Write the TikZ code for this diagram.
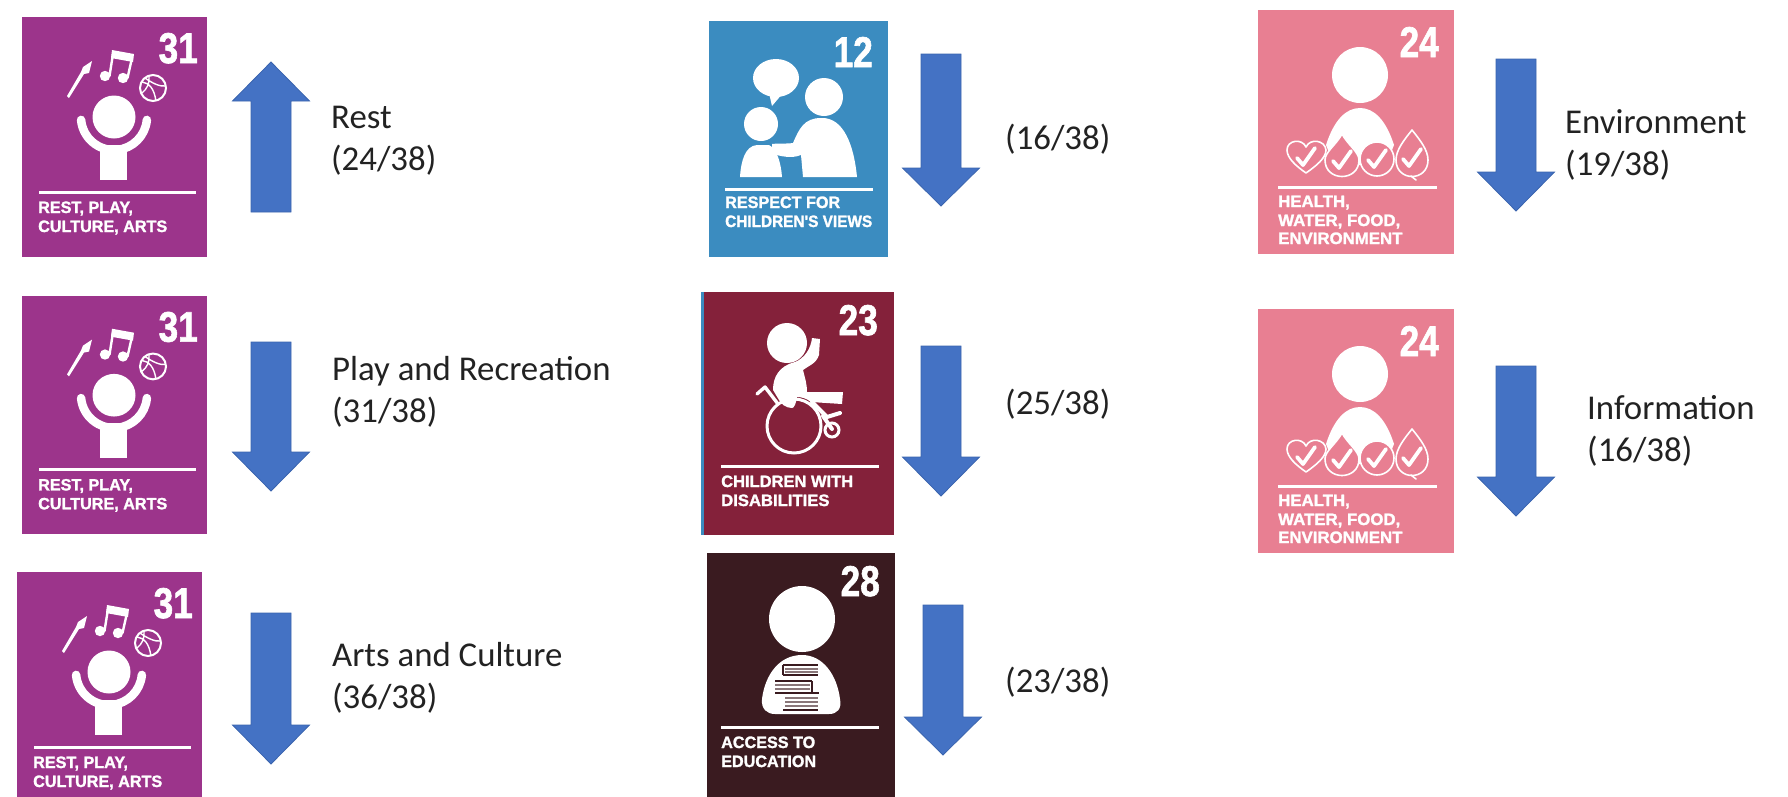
\documentclass[tikz,border=0pt]{standalone}
\usepackage{fontspec}
\setmainfont{Carlito}
\newfontfamily\cardfont{Liberation Sans}[BoldFeatures={FakeBold=1.6}]
\definecolor{cpurple}{HTML}{9C348B}
\definecolor{cblue}{HTML}{3B8CC0}
\definecolor{cmaroon}{HTML}{84213A}
\definecolor{cdark}{HTML}{3A1B20}
\definecolor{cpink}{HTML}{E87F92}
\definecolor{arrowblue}{HTML}{4472C4}
\definecolor{arrowedge}{HTML}{3A64AE}
\definecolor{textdark}{HTML}{222222}
\tikzset{
  x=1pt,y=1pt,
  cardnum/.style={text=white,font=\cardfont\bfseries\fontsize{43}{43}\selectfont,inner sep=0,anchor=base east,xscale=.82,transform shape},
  cardtext/.style={text=white,font=\cardfont\bfseries\fontsize{16.5}{16.5}\selectfont,inner sep=0,anchor=base west,xscale=.98,transform shape},
  cardrule/.style={draw=white,line width=3},
  wfill/.style={fill=white,draw=none},
  wline/.style={draw=white,line cap=round,line join=round},
  bigarrow/.style={fill=arrowblue,draw=arrowedge,line width=.8,line join=miter},
  rating/.style={text=textdark,font=\fontsize{34.8}{42}\selectfont,inner sep=0,anchor=base west,align=left},
}
\newcommand{\arrowshape}[4]{% centre x, tail end, head base, tip
  \path[bigarrow] (#1-20,-#2) -- (#1+20,-#2) -- (#1+20,-#3) -- (#1+38.5,-#3) -- (#1,-#4) -- (#1-38.5,-#3) -- (#1-20,-#3) -- cycle;}
\newcommand{\iconrest}[1]{%
  \fill[cpurple] (0,0) rectangle (185,-240);
  \node[cardnum] (#1num) at (176,-46) {31};
  \draw[cardrule] (17,-175) -- (174,-175);
  \node[cardtext] (#1a) at (16,-196) {REST, PLAY,};
  \node[cardtext] (#1b) at (16,-215) {CULTURE, ARTS};
  \fill[white] (92,-100) circle[radius=21.5];
  \fill[white] (78,-128) rectangle (105,-163);
  \draw[wline,line width=8.5] (59.1,-102.9) arc[start angle=185,end angle=355,radius=33];
  \fill[white] (45,-79) -- (47,-81) -- (62,-57) -- (67,-56) -- (70,-44) -- (61,-50) -- (59,-55) -- cycle;
  \fill[white] (83,-59) circle[radius=5.2] (101,-61) circle[radius=5.2];
  \draw[wline,line width=2.4] (87.5,-59) -- (91,-37) (105.5,-61) -- (110,-41);
  \fill[white] (90,-33) -- (112,-37) -- (111,-45) -- (89,-41) -- cycle;
  \draw[white,line width=2] (131,-71) circle[radius=13];
  \draw[white,line width=1.4] (120,-65) .. controls (127,-66) and (132,-71) .. (134,-84)
     (123,-61) .. controls (130,-66) and (138,-70) .. (144,-69)
     (120,-76) .. controls (125,-72) and (128,-66) .. (127,-59);
}
\newcommand{\iconviews}[1]{%
  \fill[cblue] (0,0) rectangle (179,-236);
  \node[cardnum] (#1num) at (164,-46) {12};
  \draw[cardrule] (16,-168) -- (164,-168);
  \node[cardtext,xscale=1] (#1a) at (16,-187) {RESPECT FOR};
  \node[cardtext,xscale=.95] (#1b) at (16,-206) {CHILDREN'S VIEWS};
  \fill[white] (67,-57) ellipse[x radius=23,y radius=19];
  \fill[white] (60,-72) -- (63,-85) -- (74,-72) -- cycle;
  \fill[white] (52,-103) circle[radius=17] (115,-76) circle[radius=19];
  \fill[white] (94,-156) -- (92,-134) .. controls (82,-138) and (72,-135) .. (63,-133) -- (63,-123)
     .. controls (72,-122) and (80,-123) .. (84,-122)
     .. controls (90,-108) and (95,-97) .. (112,-97)
     .. controls (135,-96) and (145,-125) .. (148,-156) -- cycle;
  \fill[white] (31,-156) .. controls (32,-140) and (36,-125) .. (48,-124) -- (60,-124)
     .. controls (68,-128) and (72,-142) .. (73,-156) -- cycle;
}
\newcommand{\icondisab}[1]{%
  \fill[cblue] (0,0) rectangle (3,-243);
  \fill[cmaroon] (3,0) rectangle (193,-243);
  \node[cardnum] (#1num) at (177,-43) {23};
  \draw[cardrule] (20,-174) -- (178,-174);
  \node[cardtext,xscale=1.02] (#1a) at (20,-195) {CHILDREN WITH};
  \node[cardtext,xscale=1.03] (#1b) at (20,-214) {DISABILITIES};
  \fill[white] (86,-51) circle[radius=20];
  \draw[white,line width=3] (93,-134) circle[radius=27];
  \draw[white,line width=3] (131,-138) circle[radius=7];
  \fill[white] (72,-98) .. controls (72,-85) and (78,-74) .. (94,-70)
     .. controls (104,-66) and (110,-56) .. (111,-46) -- (119,-47) -- (118,-63)
     .. controls (115,-72) and (107,-74) .. (102,-78) .. controls (104,-86) and (106,-92) .. (106,-100)
     -- (142,-100) -- (141,-112) -- (110,-110) .. controls (105,-106) and (100,-105) .. (96,-105)
     .. controls (95,-112) and (93,-116) .. (91,-116) .. controls (85,-116) and (80,-112) .. (78,-108) -- cycle;
  \draw[wline,line width=3.4] (56,-102) -- (64,-95) -- (77,-112);
  \draw[wline,line width=4] (111,-110) -- (126,-125) -- (139,-121) (122,-124) -- (131,-137);
}
\newcommand{\iconeduc}[1]{%
  \fill[cdark] (0,0) rectangle (188,-256);
  \node[cardnum] (#1num) at (173,-43) {28};
  \draw[cardrule] (14,-174) -- (172,-174);
  \node[cardtext,xscale=1] (#1a) at (14,-195) {ACCESS TO};
  \node[cardtext,xscale=1] (#1b) at (14,-214) {EDUCATION};
  \fill[white] (95,-66) circle[radius=33];
  \fill[white] (95,-102) .. controls (72,-102) and (58,-122) .. (55,-146)
     .. controls (54,-156) and (60,-161) .. (68,-161) -- (122,-161)
     .. controls (130,-161) and (135,-156) .. (133,-146)
     .. controls (130,-122) and (116,-102) .. (95,-102) -- cycle;
  \draw[cdark,line width=1.1] (76,-112) -- (111,-112) (76,-122) -- (111,-122) (76,-112) -- (76,-122);
  \draw[cdark!60,line width=1.4] (78,-116) -- (111,-116) (78,-119) -- (111,-119);
  \draw[cdark,line width=2] (68,-128) -- (105,-128) (68,-140) -- (112,-140) (105,-128) -- (105,-140);
  \draw[cdark!60,line width=1.4] (68,-132) -- (103,-132) (68,-136) -- (103,-136);
  \draw[cdark!60,line width=1.4] (78,-145) -- (111,-145) (78,-149) -- (111,-149) (78,-153) -- (111,-153);
  \draw[cdark,line width=1.1] (76,-157) -- (111,-157);
}
\newcommand{\chk}[2]{\draw[wline,line width=3.8] (#1-9,#2-1) -- (#1-3,#2-8) -- (#1+9,#2+9);}
\newcommand{\iconhealth}[1]{%
  \fill[cpink] (0,0) rectangle (196,-244);
  \node[cardnum] (#1num) at (181,-47) {24};
  \draw[cardrule] (20,-177) -- (179,-177);
  \node[cardtext,xscale=1.04] (#1a) at (20,-197) {HEALTH,};
  \node[cardtext,xscale=1.04] (#1b) at (20,-216) {WATER, FOOD,};
  \node[cardtext,xscale=1.04] (#1c) at (20,-234) {ENVIRONMENT};
  \fill[white] (102,-65) circle[radius=28];
  \fill[white] (68,-135) .. controls (76,-110) and (88,-98) .. (102,-98)
     .. controls (116,-98) and (128,-110) .. (136,-135) -- (128,-155) -- (76,-155) -- cycle;
  % heart
  \draw[wline,line width=1.6,fill=cpink] (48,-163) .. controls (38,-156) and (29,-148) .. (29,-140)
     .. controls (29,-130) and (44,-128) .. (48,-137) .. controls (52,-128) and (67,-130) .. (68,-140)
     .. controls (68,-148) and (58,-156) .. (48,-163) -- cycle;
  \chk{48}{-147}
  % drop
  \draw[wline,line width=1.6,fill=cpink] (84,-124) .. controls (78,-135) and (67,-142) .. (67,-150)
     .. controls (67,-172) and (101,-172) .. (101,-150) .. controls (101,-142) and (90,-135) .. (84,-124) -- cycle;
  \chk{84}{-150}
  % apple
  \draw[wline,line width=1.6,fill=cpink] (119,-149) circle[radius=17];
  \chk{119}{-149}
  \fill[white] (117,-131) -- (112,-128) -- (113,-124) -- (118,-128) -- cycle;
  \fill[white] (120,-131) -- (127,-126) -- (130,-130) -- (124,-133) -- cycle;
  \fill[white] (119,-122) -- (121,-127) -- (117,-127) -- cycle;
  % leaf
  \draw[wline,line width=1.6,fill=cpink] (154,-120) .. controls (146,-130) and (138,-140) .. (138,-150)
     .. controls (138,-172) and (170,-172) .. (170,-150) .. controls (170,-140) and (162,-130) .. (154,-120) -- cycle;
  \draw[wline,line width=1.6] (153,-166) -- (158,-170);
  \chk{154}{-148}
}
\begin{document}
\begin{tikzpicture}
\useasboundingbox (0,0) rectangle (1788,-796);
\begin{scope}
\clip (0,0) rectangle (1788,-796);
\begin{scope}[shift={(22,-17)}] \iconrest{rr} \end{scope}
\begin{scope}[shift={(22,-296)},yscale=.992] \iconrest{rp} \end{scope}
\begin{scope}[shift={(17,-572)}] \iconrest{ra} \end{scope}
\begin{scope}[shift={(709,-21)}] \iconviews{vw} \end{scope}
\begin{scope}[shift={(701,-292)}] \icondisab{ds} \end{scope}
\begin{scope}[shift={(707,-553)}] \iconeduc{ed} \end{scope}
\begin{scope}[shift={(1258,-10)}] \iconhealth{he} \end{scope}
\begin{scope}[shift={(1258,-309)}] \iconhealth{hi} \end{scope}
\end{scope}
\arrowshape{271}{212}{101}{62}
\arrowshape{271}{342}{452}{491}
\arrowshape{271}{613}{725}{764}
\arrowshape{941}{54}{168}{206}
\arrowshape{941}{346}{457}{496}
\arrowshape{943}{605}{717}{755}
\arrowshape{1516}{59}{172}{211}
\arrowshape{1516}{366}{477}{516}
\node[rating] (trest) at (331,-170) {Rest\\(24/38)};
\node[rating] (tplay) at (332,-422) {Play and Recreation\\(31/38)};
\node[rating] (tarts) at (332,-708) {Arts and Culture\\(36/38)};
\node[rating] (tviews) at (1005,-149) {(16/38)};
\node[rating] (tdisab) at (1005,-414) {(25/38)};
\node[rating] (teduc) at (1005,-692) {(23/38)};
\node[rating] (tenv) at (1565,-175) {Environment\\(19/38)};
\node[rating] (tinfo) at (1587,-461) {Information\\(16/38)};
\end{tikzpicture}
\end{document}
